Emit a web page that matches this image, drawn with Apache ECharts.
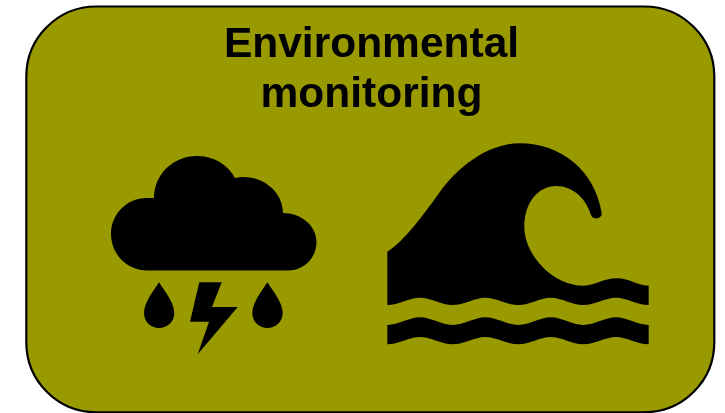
<!DOCTYPE html>
<html>
<head>
<meta charset="utf-8">
<style>
    html, body { margin: 0; padding: 0; background: #fff; }
    #main { width: 725px; height: 413px; }
</style>
<script src="https://cdn.jsdelivr.net/npm/echarts@6/dist/echarts.min.js"></script>
</head>
<body>
<div id="main"></div>
<script>
// outlines, in picture units
// [x,y] = move / line, [x1,y1,x2,y2,x,y] = curve
var titleLines = ['Environmental', 'monitoring'];
var boxCorners = [[26.3, 6.5], [714.3, 412.3]];
var boxRadius = 70;

var cloud = [[147, 270.5], [127, 270.5, 111, 254, 111, 234], [111, 214, 127, 198, 147, 198], [154, 198],
    [154, 174.3, 173.3, 156, 197, 156], [213, 156, 227.6, 164, 235, 178], [238, 177.5, 240, 177, 243, 177],
    [265, 177, 283, 193, 283, 213], [301.5, 213, 316.5, 226, 316.5, 242], [316.5, 258, 304, 270.5, 288, 270.5]];
var dropLeft = [[159, 282.3], [155, 289, 144, 302, 144, 313], [144, 321.5, 150.5, 328, 159, 328],
    [167.5, 328, 174.3, 321.5, 174.3, 313], [174.3, 302, 163, 289, 159, 282.3]];
var dropRight = [[267.4, 282.3], [263.4, 289, 252.3, 302, 252.3, 313], [252.3, 321.5, 259, 328, 267.4, 328],
    [275.8, 328, 282.7, 321.5, 282.7, 313], [282.7, 302, 271.4, 289, 267.4, 282.3]];
var bolt = [[199.3, 282.3], [221.7, 282.3], [212, 307], [237.7, 307], [197.7, 354.3], [209, 321.7], [190, 321.7]];
var wave = [[387.3, 251.7], [405, 240, 421, 218, 440, 191.7], [455, 171, 485, 143.3, 520, 143.3],
    [560, 143.3, 595, 170, 601.7, 213.3], [602, 216.5, 599, 218.5, 596, 218.5], [593, 218.5, 591.5, 216.5, 590.7, 214.3],
    [586, 198, 572, 186, 556.7, 186], [537, 186, 524.3, 204, 524.3, 226.7], [524.3, 255, 553, 285.7, 583.3, 285.7],
    [595, 285.7, 603, 278.3, 616.7, 278.3], [630, 278.3, 637, 285.7, 648.7, 285.7], [648.7, 305],
    [637, 305, 627, 297.7, 616, 297.7], [605, 297.7, 594.5, 305, 583.3, 305], [572, 305, 562, 297.7, 550.7, 297.7],
    [540, 297.7, 529.5, 305, 518.3, 305], [507, 305, 496.5, 297.7, 485.3, 297.7], [474.5, 297.7, 464, 305, 452.7, 305],
    [441.5, 305, 431, 297.7, 420, 297.7], [409, 297.7, 398.5, 305, 387.3, 305]];
var ribbon = [[387.3, 325], [398.5, 325, 409, 317.3, 420, 317.3], [431, 317.3, 441.5, 325, 452.7, 325],
    [464, 325, 474.5, 317.3, 485.3, 317.3], [496.5, 317.3, 507, 325, 518.3, 325], [529.5, 325, 540, 317.3, 550.7, 317.3],
    [562, 317.3, 572, 325, 583.3, 325], [594.5, 325, 605, 317.3, 616, 317.3], [627, 317.3, 637, 325, 648.7, 325],
    [648.7, 344.3], [637, 344.3, 627, 337, 616, 337], [605, 337, 594.5, 344.3, 583.3, 344.3],
    [572, 344.3, 562, 337, 550.7, 337], [540, 337, 529.5, 344.3, 518.3, 344.3], [507, 344.3, 496.5, 337, 485.3, 337],
    [474.5, 337, 464, 344.3, 452.7, 344.3], [441.5, 344.3, 431, 337, 420, 337], [409, 337, 398.5, 344.3, 387.3, 344.3]];

var icons = [cloud, dropLeft, dropRight, bolt, wave, ribbon];

var myChart = echarts.init(document.getElementById('main'), null, { renderer: 'canvas' });

// turn one outline into svg path text, through the chart's axes
function toPath(api, outline) {
    var d = '';
    for (var i = 0; i < outline.length; i++) {
        var s = outline[i];
        var pts = [];
        for (var j = 0; j < s.length; j += 2) {
            pts.push(api.coord([s[j], s[j + 1]]).join(' '));
        }
        if (i === 0) {
            d += 'M' + pts[0];
        } else if (s.length === 2) {
            d += 'L' + pts[0];
        } else {
            d += 'C' + pts.join(' ');
        }
    }
    return d + 'Z';
}

var option = {
    animation: false,
    backgroundColor: '#fff',
    grid: { left: 0, right: 0, top: 0, bottom: 0 },
    xAxis: { type: 'value', min: 0, max: 725, show: false },
    yAxis: { type: 'value', min: 0, max: 413, inverse: true, show: false },
    title: {
        text: titleLines.join('\n'),
        left: 371.5,
        top: 20.5,
        textAlign: 'center',
        padding: 0,
        textStyle: {
            fontFamily: 'Liberation Sans',
            fontWeight: 'bold',
            fontSize: 42.5,
            lineHeight: 50,
            color: '#000'
        }
    },
    series: [{
        // the rounded box
        type: 'custom',
        coordinateSystem: 'cartesian2d',
        clip: false,
        silent: true,
        z: 1,
        data: [boxCorners[0].concat(boxCorners[1])],
        renderItem: function(params, api) {
            var a = api.coord([api.value(0), api.value(1)]);
            var b = api.coord([api.value(2), api.value(3)]);
            return {
                type: 'rect',
                shape: { x: a[0], y: a[1], width: b[0] - a[0], height: b[1] - a[1], r: boxRadius },
                style: { fill: '#999900', stroke: '#000', lineWidth: 2.2 }
            };
        }
    }, {
        // cloud, drops, bolt and waves
        type: 'custom',
        coordinateSystem: 'cartesian2d',
        clip: false,
        silent: true,
        z: 2,
        data: icons.map(function(o, i) { return [i]; }),
        renderItem: function(params, api) {
            return {
                type: 'path',
                shape: { pathData: toPath(api, icons[params.dataIndex]) },
                style: { fill: '#000' }
            };
        }
    }]
};

myChart.setOption(option);
</script>
</body>
</html>
